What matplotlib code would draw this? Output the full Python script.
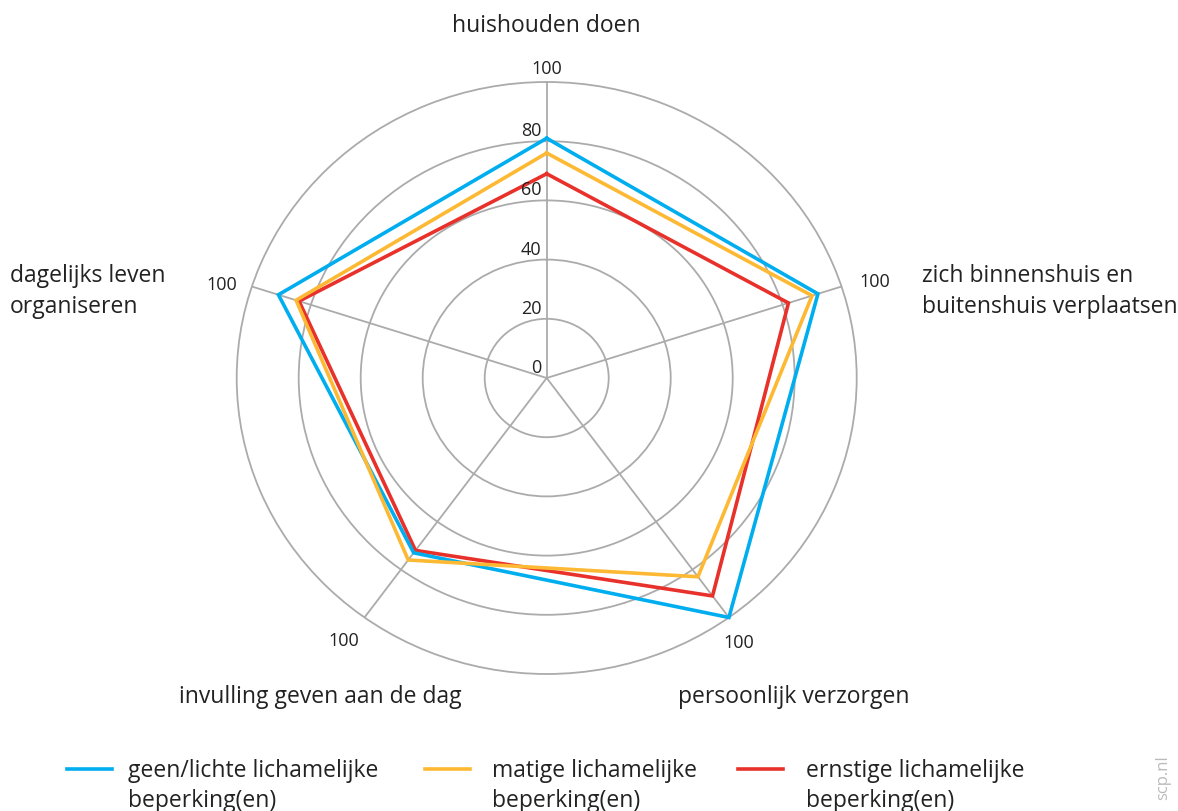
import numpy as np
import matplotlib.pyplot as plt
from matplotlib.lines import Line2D

plt.rcParams['font.family'] = ['Open Sans', 'DejaVu Sans']

# Domains, clockwise from the top
domains = ['huishouden doen',
           'zich binnenshuis en\nbuitenshuis verplaatsen',
           'persoonlijk verzorgen',
           'invulling geven aan de dag',
           'dagelijks leven\norganiseren']

# Scores (0-100) per group
geen_licht = [81, 92, 100, 73, 91]
matig = [76, 90, 83, 76, 85]
ernstig = [69, 82, 91, 72, 84]

series_labels = ['geen/lichte lichamelijke\nbeperking(en)',
                 'matige lichamelijke\nbeperking(en)',
                 'ernstige lichamelijke\nbeperking(en)']
colors = ['#00AEEF', '#FDB933', '#E8312A']
rings = [20, 40, 60, 80]
grey = '#ABABAB'
text_col = '#222222'

W, H, DPI = 1178, 812, 100
PX = 72 / DPI  # pixels -> points


def closed(vals):
    return list(vals) + [vals[0]]


fig = plt.figure(figsize=(W / DPI, H / DPI), dpi=DPI)
# centre at (546.7, 379) px, outer ring 310 px wide and 296 px tall
ax = fig.add_axes([236.7 / W, (H - 379 - 296) / H, 620 / W, 592 / H], projection='polar')
ax.set_aspect('auto')
ax.set_theta_zero_location('N')
ax.set_theta_direction(-1)

theta = np.deg2rad(np.arange(len(domains)) * 360 / len(domains))
ax.set_ylim(0, 100)
ax.set_xticks(theta)
ax.set_xticklabels([])
ax.set_yticks(rings)
ax.set_yticklabels([])
ax.grid(True, color=grey, linewidth=1.3)
ax.spines['polar'].set_color(grey)
ax.spines['polar'].set_linewidth(1.3)
ax.tick_params(length=0)

# series, red drawn first so the others sit on top
for vals, col, z in [(ernstig, colors[2], 3), (geen_licht, colors[0], 4), (matig, colors[1], 5)]:
    ax.plot(closed(theta), closed(vals), color=col, linewidth=2.6, zorder=z,
            solid_joinstyle='miter', clip_on=False)

# radial scale along the top axis
for r in [0] + rings:
    ax.annotate(str(r), xy=(0, r), xytext=(-5 * PX, 2 * PX), textcoords='offset points',
                ha='right', va='bottom', fontsize=13, color=text_col)

# "100" at the end of each axis
end_offsets = [(0, 5, 'center', 'bottom'), (33, 6, 'center', 'center'),
               (10, -25, 'center', 'center'), (-21, -23, 'center', 'center'),
               (-30, 3, 'center', 'center')]
for t, (dx, dy, ha, va) in zip(theta, end_offsets):
    ax.annotate('100', xy=(t, 100), xytext=(dx * PX, dy * PX), textcoords='offset points',
                ha=ha, va=va, fontsize=13, color=text_col)

# domain names
name_offsets = [(0, 57, 'center'), (80, -4, 'left'), (65, -79, 'center'),
                (-44, -79, 'center'), (-242, -4, 'left')]
for t, name, (dx, dy, ha) in zip(theta, domains, name_offsets):
    ax.annotate(name, xy=(t, 100), xytext=(dx * PX, dy * PX), textcoords='offset points',
                ha=ha, va='center', multialignment='left', fontsize=16.5,
                color=text_col, linespacing=1.35)

# legend
leg_x = [(67, 128), (425, 492), (738, 806)]
for (lx, tx), lab, col in zip(leg_x, series_labels, colors):
    fig.add_artist(Line2D([lx / W, (lx + 45) / W], [1 - 770 / H] * 2, color=col,
                          linewidth=2.6, transform=fig.transFigure))
    fig.text(tx / W, 1 - 759 / H, lab, ha='left', va='top', fontsize=16.5,
             color=text_col, linespacing=1.35)

fig.text(1163 / W, 1 - 778 / H, 'scp.nl', rotation=90, ha='center', va='center',
         fontsize=12, color='#BBBBBB')

fig.savefig('out.png', dpi=DPI)
